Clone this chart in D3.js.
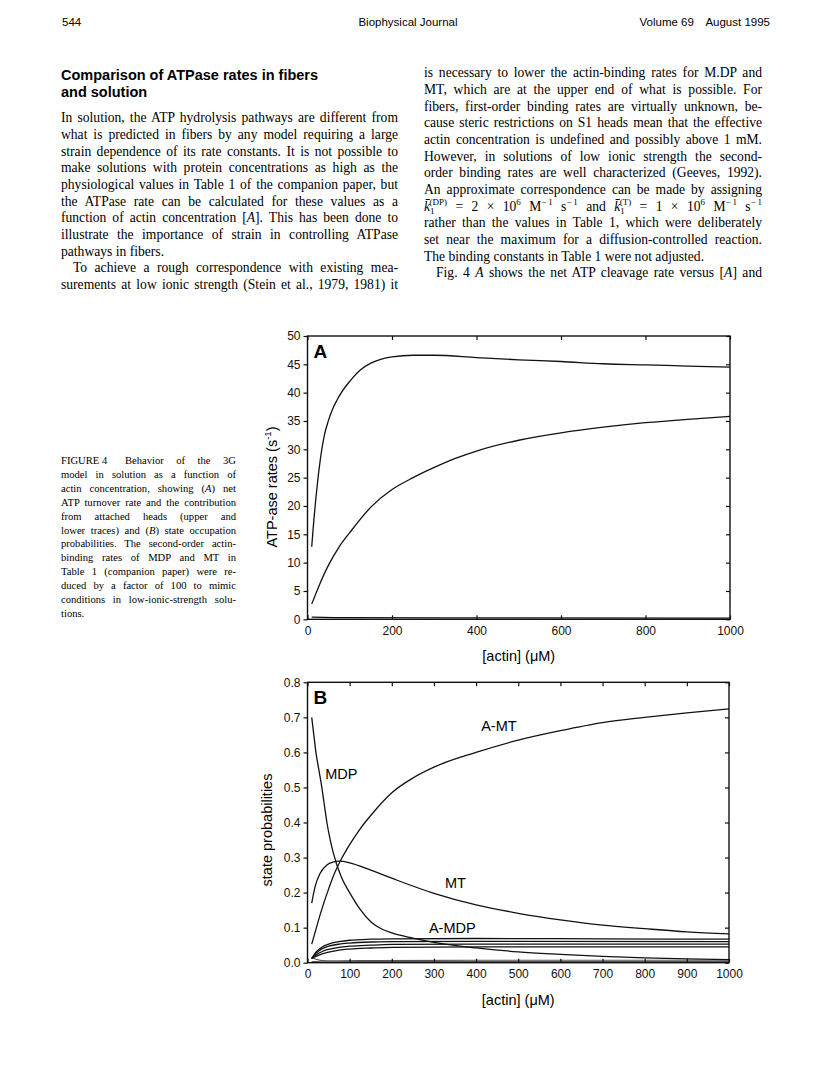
<!DOCTYPE html>
<html>
<head>
<meta charset="utf-8">
<script src="https://cdn.jsdelivr.net/npm/d3@7/dist/d3.min.js"></script>
<style>
  body { margin: 0; background: #fff; }
  svg { display: block; }
</style>
</head>
<body>
<script>
// ---- data ----
// panel A: ATPase rates (s^-1) vs [actin] (uM)
var netRate = [[10,12.8],[15,17.5],[20,21.5],[25,25],[30,28],[40,32.5],[50,35.2],[60,37.2],[70,38.7],[80,40],[100,42],[125,44],[150,45.2],[175,45.9],[200,46.3],[250,46.6],[300,46.6],[400,46.2],[500,45.8],[600,45.5],[700,45.1],[800,44.9],[900,44.7],[1000,44.5]];
var attachedRate = [[10,2.7],[25,5.5],[50,9.6],[75,12.8],[100,15.3],[150,19.8],[200,22.9],[250,25],[300,26.8],[350,28.4],[400,29.7],[500,31.6],[600,32.9],[700,33.9],[800,34.7],[900,35.3],[1000,35.8]];
var baseRate = [[10,0.4],[100,0.3],[400,0.25],[1000,0.2]];

// panel B: state probabilities
var aMT = [[10,0.053],[20,0.095],[30,0.137],[40,0.175],[50,0.21],[60,0.243],[80,0.295],[100,0.337],[125,0.382],[150,0.42],[200,0.485],[250,0.527],[300,0.558],[400,0.6],[500,0.635],[600,0.662],[700,0.685],[800,0.70],[900,0.713],[1000,0.724]];
var mdp = [[10,0.70],[15,0.65],[20,0.60],[27,0.55],[34,0.50],[40,0.45],[46,0.40],[54,0.35],[62,0.31],[80,0.245],[100,0.2],[125,0.152],[150,0.117],[175,0.097],[200,0.085],[250,0.07],[300,0.058],[400,0.042],[500,0.031],[600,0.024],[700,0.018],[800,0.014],[900,0.011],[1000,0.009]];
var mt = [[10,0.17],[18,0.217],[30,0.255],[46,0.279],[60,0.287],[77,0.29],[100,0.285],[150,0.264],[200,0.241],[300,0.198],[400,0.165],[500,0.141],[600,0.122],[700,0.107],[800,0.097],[900,0.088],[1000,0.082]];
var aMDP1 = [[10,0.012],[20,0.03],[35,0.045],[50,0.053],[75,0.06],[100,0.064],[150,0.067],[200,0.068],[400,0.069],[700,0.068],[1000,0.067]];
var aMDP2 = [[10,0.012],[20,0.027],[35,0.04],[50,0.047],[75,0.053],[100,0.056],[150,0.059],[200,0.06],[400,0.061],[1000,0.06]];
var aMDP3 = [[10,0.012],[20,0.022],[35,0.032],[50,0.038],[75,0.044],[100,0.047],[150,0.05],[200,0.052],[400,0.053],[1000,0.053]];
var aMDP4 = [[10,0.012],[20,0.018],[35,0.025],[50,0.03],[75,0.036],[100,0.039],[150,0.042],[200,0.044],[400,0.045],[1000,0.045]];
var lowState1 = [[10,0.015],[20,0.01],[35,0.006],[60,0.004],[200,0.003],[1000,0.003]];
var lowState2 = [[10,0.003],[50,0.005],[150,0.006],[400,0.007],[1000,0.007]];

var ticksA_y = d3.range(0, 51, 5);
var ticksA_x = [0, 200, 400, 600, 800, 1000];
var ticksB_y = d3.range(0, 0.81, 0.1);
var ticksB_x = d3.range(0, 1001, 100);

var curveLabels = [
  {text: "A-MT", x: 412, y: 0.662},
  {text: "MDP", x: 42, y: 0.523},
  {text: "MT", x: 326, y: 0.213},
  {text: "A-MDP", x: 288, y: 0.085}
];

// ---- page text ----
var header = {left: "544", mid: "Biophysical Journal", right: "Volume 69\u2003August 1995"};
var heading = ["Comparison of ATPase rates in fibers", "and solution"];
var leftCol = [
  ["In solution, the ATP hydrolysis pathways are different from", 1],
  ["what is predicted in fibers by any model requiring a large", 1],
  ["strain dependence of its rate constants. It is not possible to", 1],
  ["make solutions with protein concentrations as high as the", 1],
  ["physiological values in Table 1 of the companion paper, but", 1],
  ["the ATPase rate can be calculated for these values as a", 1],
  ["function of actin concentration [*A*]. This has been done to", 1],
  ["illustrate the importance of strain in controlling ATPase", 1],
  ["pathways in fibers.", 0],
  ["\tTo achieve a rough correspondence with existing mea-", 1],
  ["surements at low ionic strength (Stein et al., 1979, 1981) it", 1]
];
var rightCol = [
  ["is necessary to lower the actin-binding rates for M.DP and", 1],
  ["MT, which are at the upper end of what is possible. For", 1],
  ["fibers, first-order binding rates are virtually unknown, be-", 1],
  ["cause steric restrictions on S1 heads mean that the effective", 1],
  ["actin concentration is undefined and possibly above 1 mM.", 1],
  ["However, in solutions of low ionic strength the second-", 1],
  ["order binding rates are well characterized (Geeves, 1992).", 1],
  ["An approximate correspondence can be made by assigning", 1],
  null,
  ["rather than the values in Table 1, which were deliberately", 1],
  ["set near the maximum for a diffusion-controlled reaction.", 1],
  ["The binding constants in Table 1 were not adjusted.", 0],
  ["\tFig. 4 *A* shows the net ATP cleavage rate versus [*A*] and", 1]
];
var caption = [
  ["FIGURE\u20054\u2002 Behavior of the 3G", 1],
  ["model in solution as a function of", 1],
  ["actin concentration, showing (*A*) net", 1],
  ["ATP turnover rate and the contribution", 1],
  ["from attached heads (upper and", 1],
  ["lower traces) and (*B*) state occupation", 1],
  ["probabilities. The second-order actin-", 1],
  ["binding rates of MDP and MT in", 1],
  ["Table 1 (companion paper) were re-", 1],
  ["duced by a factor of 100 to mimic", 1],
  ["conditions in low-ionic-strength solu-", 1],
  ["tions.", 0]
];

var svg = d3.select("body").append("svg")
    .attr("width", 816)
    .attr("height", 1075)
    .style("background", "#fff");

var serif = "'Liberation Serif', 'Times New Roman', serif";
var sans = "'Liberation Sans', Arial, Helvetica, sans-serif";

// header
svg.append("text").attr("x", 62).attr("y", 26).text(header.left)
  .style("font-family", sans).style("font-size", "11.5px");
svg.append("text").attr("x", 408).attr("y", 26).attr("text-anchor", "middle").text(header.mid)
  .style("font-family", sans).style("font-size", "11.5px");
svg.append("text").attr("x", 770).attr("y", 26).attr("text-anchor", "end").text(header.right)
  .style("font-family", sans).style("font-size", "11.5px");

// heading
heading.forEach(function(t, i) {
  svg.append("text").attr("x", 61).attr("y", 80 + i * 16.5).text(t)
    .style("font-family", sans).style("font-weight", "bold").style("font-size", "14.5px");
});

// justified line with *italic* markup
function textLine(str, x, y, width, justify, size) {
  var indent = 0;
  if (str.charAt(0) === "\t") { indent = 12; str = str.slice(1); }
  var t = svg.append("text")
    .attr("x", x + indent).attr("y", y)
    .style("font-family", serif).style("font-size", size + "px")
    .attr("xml:space", "preserve");
  str.split("*").forEach(function(part, i) {
    if (!part) return;
    t.append("tspan").text(part).style("font-style", i % 2 ? "italic" : "normal");
  });
  if (justify) {
    var natural = t.node().getComputedTextLength();
    var spaces = (str.match(/ /g) || []).length;
    if (spaces > 0) t.style("word-spacing", ((width - indent - natural) / spaces) + "px");
  }
  return t;
}

var lineH = 16.67;
leftCol.forEach(function(d, i) {
  textLine(d[0], 61, 122.3 + i * lineH, 337, d[1], 13.6);
});
rightCol.forEach(function(d, i) {
  if (d) textLine(d[0], 424, 77.3 + i * lineH, 338, d[1], 13.6);
});

// equation line
var eq = svg.append("text").attr("x", 424).attr("y", 77.3 + 8 * lineH)
  .style("font-family", serif).style("font-size", "13.6px").attr("xml:space", "preserve");
function kbar(sup, after) {
  eq.append("tspan").text("k\u0304").style("font-style", "italic");
  eq.append("tspan").text("1").style("font-size", "9px").attr("dy", 3);
  eq.append("tspan").text(sup).style("font-size", "9px").attr("dx", -5).attr("dy", -9);
  eq.append("tspan").text(after).attr("dy", 6);
}
function units() {
  eq.append("tspan").text("6").style("font-size", "9px").attr("dy", -6);
  eq.append("tspan").text(" M").attr("dy", 6);
  eq.append("tspan").text("\u2212\u20091").style("font-size", "9px").attr("dy", -6);
  eq.append("tspan").text(" s").attr("dy", 6);
  eq.append("tspan").text("\u2212\u20091").style("font-size", "9px").attr("dy", -6);
}
kbar("(DP)", " = 2 \u00d7 10");
units();
eq.append("tspan").text(" and ").attr("dy", 6);
kbar("(T)", " = 1 \u00d7 10");
units();
(function() {
  var w = eq.node().getBBox().width;
  var spaces = eq.text().split(" ").length - 1;
  eq.style("word-spacing", ((338 - w) / spaces) + "px");
})();

// caption
caption.forEach(function(d, i) {
  textLine(d[0], 61, 464 + i * 13.9, 175, d[1], 10.6);
});

// ---- charts ----
function panel(opt) {
  var x = d3.scaleLinear().domain(opt.xDomain).range([307.5, opt.right]);
  var y = d3.scaleLinear().domain(opt.yDomain).range([opt.bottom, opt.top]);
  var g = svg.append("g");

  var line = d3.line()
    .x(function(d) { return x(d[0]); })
    .y(function(d) { return y(d[1]); })
    .curve(d3.curveMonotoneX);

  opt.series.forEach(function(s) {
    g.append("path")
      .datum(s.data)
      .attr("fill", "none")
      .attr("stroke", s.color || "#111")
      .attr("stroke-width", s.w || 1.3)
      .attr("d", line);
  });

  // left axis, ticks outside
  var left = g.append("g").attr("transform", "translate(" + x.range()[0] + ",0)")
    .call(d3.axisLeft(y).tickValues(opt.yTicks).tickSize(4).tickPadding(3).tickFormat(opt.yFormat));
  // right axis, ticks inward
  var right = g.append("g").attr("transform", "translate(" + x.range()[1] + ",0)")
    .call(d3.axisLeft(y).tickValues(opt.yTicks).tickSize(4).tickFormat(""));
  // top axis, ticks inward
  var top = g.append("g").attr("transform", "translate(0," + y.range()[1] + ")")
    .call(d3.axisBottom(x).tickValues(opt.xTicks).tickSize(4).tickFormat(""));
  // bottom axis, ticks inward, labels below
  var bottomTicks = g.append("g").attr("transform", "translate(0," + y.range()[0] + ")")
    .call(d3.axisTop(x).tickValues(opt.xTicks).tickSize(4).tickFormat(""));
  var bottom = g.append("g").attr("transform", "translate(0," + y.range()[0] + ")")
    .call(d3.axisBottom(x).tickValues(opt.xTicks).tickSize(0).tickPadding(7).tickFormat(d3.format("d")));

  [left, right, top, bottomTicks, bottom].forEach(function(a) {
    a.select(".domain").remove();
    a.selectAll("line").attr("stroke", "#111").attr("stroke-width", 1.2);
    a.selectAll("text").style("font-family", sans).style("font-size", "12px").attr("fill", "#111");
  });

  g.append("rect")
    .attr("x", x.range()[0]).attr("y", y.range()[1])
    .attr("width", x.range()[1] - x.range()[0])
    .attr("height", y.range()[0] - y.range()[1])
    .attr("fill", "none").attr("stroke", "#111").attr("stroke-width", 1.4);

  g.append("text")
    .attr("x", x.range()[0] + 6).attr("y", y.range()[1] + 22)
    .text(opt.letter)
    .style("font-family", sans).style("font-weight", "bold").style("font-size", "19px");

  g.append("text")
    .attr("x", (x.range()[0] + x.range()[1]) / 2).attr("y", opt.xLabelY)
    .attr("text-anchor", "middle")
    .text("[actin] (\u03bcM)")
    .style("font-family", sans).style("font-size", "14.5px");

  var yl = g.append("text")
    .attr("transform", "translate(" + opt.yLabelX + "," + opt.yLabelY + ") rotate(-90)")
    .attr("text-anchor", "middle")
    .style("font-family", sans).style("font-size", "14.5px");
  yl.append("tspan").text(opt.yLabel);
  if (opt.yLabelSup) {
    yl.append("tspan").text(opt.yLabelSup).style("font-size", "9.5px").attr("dy", -6);
    yl.append("tspan").text(")").attr("dy", 6);
  }

  (opt.labels || []).forEach(function(l) {
    g.append("text").attr("x", x(l.x)).attr("y", y(l.y)).text(l.text)
      .style("font-family", sans).style("font-size", "14.5px");
  });
}

panel({
  xDomain: [0, 1000], yDomain: [0, 50],
  right: 730, top: 336, bottom: 619.3,
  xTicks: ticksA_x, yTicks: ticksA_y, yFormat: d3.format("d"),
  letter: "A", xLabelY: 661,
  yLabel: "ATP-ase rates (s", yLabelSup: "-1", yLabelX: 277, yLabelY: 487,
  series: [
    {data: baseRate, w: 1.2},
    {data: netRate},
    {data: attachedRate}
  ]
});

panel({
  xDomain: [0, 1000], yDomain: [0, 0.8],
  right: 729, top: 682.3, bottom: 962.7,
  xTicks: ticksB_x, yTicks: ticksB_y, yFormat: d3.format(".1f"),
  letter: "B", xLabelY: 1005,
  yLabel: "state probabilities", yLabelX: 272, yLabelY: 830,
  labels: curveLabels,
  series: [
    {data: lowState1, color: "#555", w: 1.1},
    {data: lowState2, color: "#555", w: 1.1},
    {data: aMDP4}, {data: aMDP3}, {data: aMDP2}, {data: aMDP1},
    {data: mdp}, {data: mt}, {data: aMT}
  ]
});
</script>
</body>
</html>
